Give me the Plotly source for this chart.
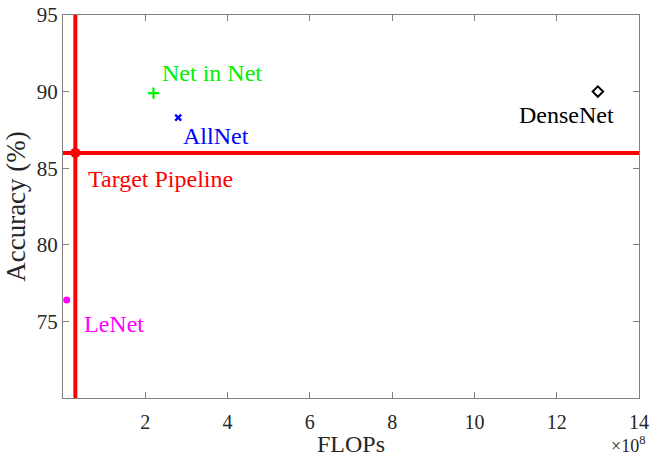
import plotly.graph_objects as go

# Data
models = ["Net in Net", "AllNet", "DenseNet", "LeNet"]
flops = [2.2e8, 2.8e8, 13.0e8, 0.09e8]
accuracy = [89.9, 88.3, 90.0, 76.4]
colors = ["#00f000", "#0000ff", "#000000", "#ff00ff"]
symbols = ["cross-thin-open", "x-thin-open", "diamond-open", "circle"]

target_name = "Target Pipeline"
target_flops = 0.3e8
target_acc = 86.0

x_range = [0, 14e8]
y_range = [70, 95]
x_ticks = [2e8, 4e8, 6e8, 8e8, 10e8, 12e8, 14e8]
x_ticklabels = ["2", "4", "6", "8", "10", "12", "14"]
y_ticks = [75, 80, 85, 90, 95]

FONT = "Liberation Serif, Times New Roman, serif"

fig = go.Figure()

# Target lines
fig.add_trace(go.Scatter(x=[target_flops, target_flops], y=y_range, mode="lines",
                         line=dict(color="#ff0000", width=4), showlegend=False, hoverinfo="skip"))
fig.add_trace(go.Scatter(x=x_range, y=[target_acc, target_acc], mode="lines",
                         line=dict(color="#ff0000", width=4), showlegend=False, hoverinfo="skip"))
fig.add_trace(go.Scatter(x=[target_flops], y=[target_acc], mode="markers",
                         marker=dict(color="#ff0000", size=10, symbol="circle"),
                         showlegend=False))

sizes = [8, 6, 8, 7]
widths = [2.2, 2.2, 2, 0]
for m, fx, a, c, s, sz, w in zip(models, flops, accuracy, colors, symbols, sizes, widths):
    fig.add_trace(go.Scatter(x=[fx], y=[a], mode="markers",
                             marker=dict(color=c, size=sz, symbol=s, line=dict(color=c, width=w)),
                             showlegend=False, name=m))

# Labels (offsets in pixels: dx, dy downward, anchor)
label_offsets = {
    "Net in Net": (6, -20, "left"),
    "AllNet": (3, 18, "left"),
    "DenseNet": (-31, 23, "center"),
    "LeNet": (15, 24, "left"),
}
for m, fx, a, c in zip(models, flops, accuracy, colors):
    dx, dy, anc = label_offsets[m]
    fig.add_annotation(x=fx, y=a, text=m, showarrow=False, xanchor=anc, yanchor="middle",
                       xshift=dx, yshift=-dy, font=dict(family=FONT, size=24, color=c))
fig.add_annotation(x=target_flops, y=target_acc, text=target_name, showarrow=False,
                   xanchor="left", yanchor="middle", xshift=11, yshift=-26,
                   font=dict(family=FONT, size=24, color="#ff0000"))

fig.add_annotation(x=1.0, y=0, xref="paper", yref="paper", text="×10<sup>8</sup>",
                   showarrow=False, xanchor="right", yanchor="top", yshift=-33, xshift=8,
                   font=dict(family=FONT, size=18, color="#262626"))

fig.update_layout(
    width=652, height=457,
    margin=dict(l=63, r=13, t=15, b=59, autoexpand=False),
    paper_bgcolor="white", plot_bgcolor="white",
    font=dict(family=FONT, size=20, color="#262626"),
    xaxis=dict(range=x_range, tickvals=x_ticks, ticktext=x_ticklabels, automargin=False,
               showgrid=False, zeroline=False, showline=True, linecolor="#808080",
               linewidth=1, mirror="ticks", ticks="inside", ticklen=6, tickcolor="#808080",
               tickfont=dict(size=20), ticklabelstandoff=6,
               title=dict(text="FLOPs", font=dict(family=FONT, size=24), standoff=6)),
    yaxis=dict(range=y_range, tickvals=y_ticks, automargin=False,
               showgrid=False, zeroline=False, showline=True, linecolor="#808080",
               linewidth=1, mirror="ticks", ticks="inside", ticklen=6, tickcolor="#808080",
               tickfont=dict(size=21),
               title=dict(text="Accuracy (%)", font=dict(family=FONT, size=27), standoff=3)),
)

fig.write_html("out.html")
